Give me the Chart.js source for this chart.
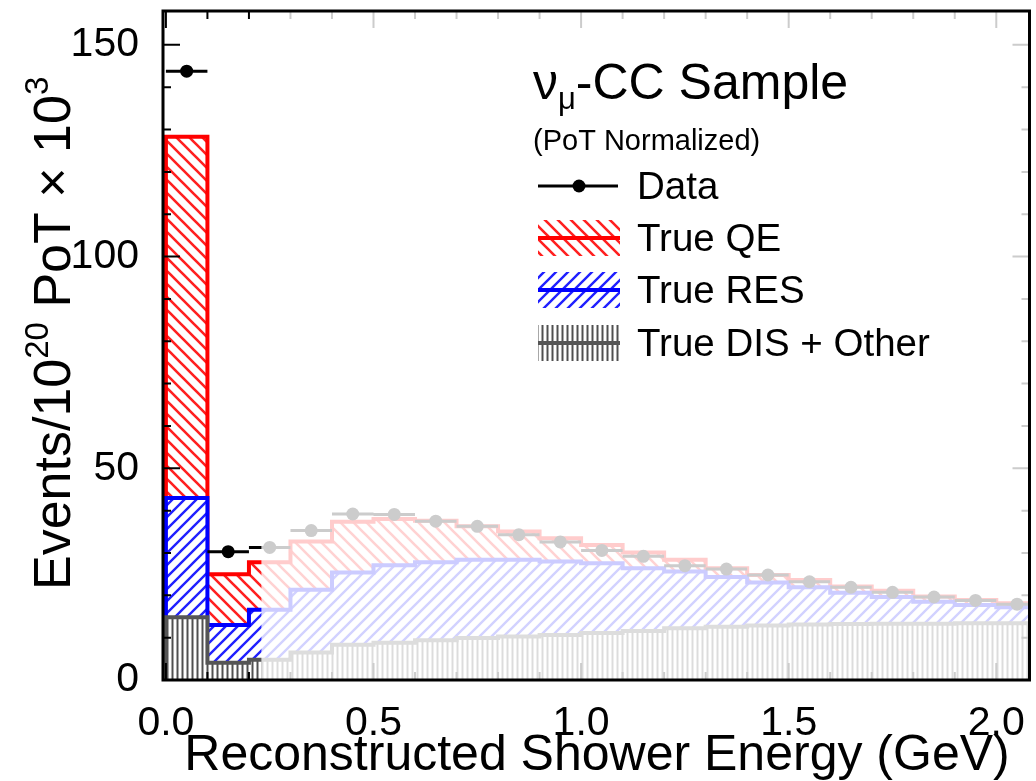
<!DOCTYPE html>
<html lang="en">
<head>
<meta charset="UTF-8">
<title>Reconstructed Shower Energy</title>
<script src="https://cdn.jsdelivr.net/npm/chart.js"></script>
<style>
  html, body { margin: 0; padding: 0; background: #fff; }
  #wrap { width: 1036px; height: 781px; position: relative; }
</style>
</head>
<body>
<div id="wrap"><canvas id="showerChart"></canvas></div>
<script>
// 0.1 GeV bins, edges
const binEdges = [0.0, 0.1, 0.2, 0.3, 0.4, 0.5, 0.6, 0.7, 0.8, 0.9, 1.0,
                  1.1, 1.2, 1.3, 1.4, 1.5, 1.6, 1.7, 1.8, 1.9, 2.0, 2.1];

// events / 1e20 PoT x 1e3, per bin
const dataEvents = [143.8, 30.3, 31.3, 35.3, 39.2, 39.1, 37.5, 36.3, 34.3, 32.6, 30.6,
                    29.2, 27.0, 26.2, 24.8, 23.2, 21.9, 20.7, 19.6, 18.8, 17.9];
const trueQE     = [85.3, 12.0, 11.2, 11.4, 12.0, 10.9, 9.8, 7.9, 6.7, 5.5, 4.3,
                    3.7, 2.8, 2.1, 1.8, 1.7, 1.5, 1.5, 1.2, 1.2, 0.9];
const trueRES    = [28.2, 8.9, 11.8, 14.8, 17.1, 18.3, 18.4, 18.5, 18.1, 17.4, 16.5,
                    14.8, 13.4, 11.7, 10.1, 8.8, 7.4, 6.3, 5.2, 4.3, 3.8];
const trueDIS    = [14.8, 4.1, 4.8, 6.5, 8.3, 8.8, 9.4, 9.9, 10.3, 10.6, 11.1,
                    11.6, 12.2, 12.6, 12.9, 13.1, 13.2, 13.3, 13.3, 13.4, 13.4];

const xTicks = [0.0, 0.5, 1.0, 1.5, 2.0];
const yTicks = [0, 50, 100, 150];

const FONT = '"Liberation Sans", Arial, Helvetica, sans-serif';
const FADE_FROM = 0.23;   // everything right of this energy is washed out

// stacked tops: DIS, DIS+RES, DIS+RES+QE
const topDIS = trueDIS.slice();
const topRES = trueRES.map((v, i) => v + topDIS[i]);
const topQE = trueQE.map((v, i) => v + topRES[i]);

function stepPoints(vals) {
  const pts = [{ x: binEdges[0], y: 0 }];
  vals.forEach((v, i) => pts.push({ x: binEdges[i], y: v }));
  pts.push({ x: binEdges[vals.length], y: vals[vals.length - 1] });
  return pts;
}

function barPoints(vals) {
  const pts = [];
  vals.forEach((v, i) => {
    pts.push({ x: binEdges[i], y: v }, { x: binEdges[i + 1], y: v }, { x: binEdges[i + 1], y: null });
  });
  return pts;
}

const markerPoints = dataEvents.map((v, i) => ({ x: (binEdges[i] + binEdges[i + 1]) / 2, y: v }));

const canvas = document.getElementById('showerChart');
const ctx = canvas.getContext('2d');

function hatch(color, dir, size, lw) {
  const c = document.createElement('canvas');
  c.width = c.height = size;
  const g = c.getContext('2d');
  g.fillStyle = '#fff';
  g.fillRect(0, 0, size, size);
  g.strokeStyle = color;
  g.lineWidth = lw;
  g.beginPath();
  if (dir === '\\') {
    g.moveTo(-size, -size); g.lineTo(2 * size, 2 * size);
    g.moveTo(0, -size); g.lineTo(2 * size, size);
    g.moveTo(-size, 0); g.lineTo(size, 2 * size);
  } else if (dir === '/') {
    g.moveTo(-size, 2 * size); g.lineTo(2 * size, -size);
    g.moveTo(-size, size); g.lineTo(size, -size);
    g.moveTo(0, 2 * size); g.lineTo(2 * size, 0);
  } else {
    g.moveTo(size / 2, 0); g.lineTo(size / 2, size);
  }
  g.stroke();
  return ctx.createPattern(c, 'repeat');
}

const qeFill = hatch('#ff2020', '\\', 13, 2.6);
const resFill = hatch('#2020ff', '/', 12, 2.4);
const disFill = hatch('#505050', '|', 5, 2);

// 'before': horizontal run at the previous value, then the vertical edge
const histStyle = { pointRadius: 0, borderWidth: 4, stepped: 'before', fill: 'origin', tension: 0 };

function drawTicks(c, area, xs, ys) {
  c.save();
  c.strokeStyle = '#000';
  c.lineWidth = 2;
  c.beginPath();
  const yMinor = [];
  for (let i = 0; i < yTicks.length; i++) {
    for (let k = 1; k < 5; k++) yMinor.push(yTicks[i] + k * 10);
  }
  const xMinor = [];
  for (let i = 0; i < xTicks.length; i++) {
    for (let k = 1; k < 5; k++) xMinor.push(xTicks[i] + k * 0.1);
  }
  const yMarks = yTicks.map(v => [v, 17]).concat(yMinor.filter(v => v < ys.max).map(v => [v, 8]));
  const xMarks = xTicks.map(v => [v, 17]).concat(xMinor.filter(v => v < xs.max).map(v => [v, 8]));
  yMarks.forEach(([v, len]) => {
    const y = ys.getPixelForValue(v);
    c.moveTo(area.left, y); c.lineTo(area.left + len, y);
    c.moveTo(area.right, y); c.lineTo(area.right - len, y);
  });
  xMarks.forEach(([v, len]) => {
    const x = xs.getPixelForValue(v);
    c.moveTo(x, area.bottom); c.lineTo(x, area.bottom - len);
    c.moveTo(x, area.top); c.lineTo(x, area.top + len);
  });
  c.stroke();
  c.restore();
}

function drawRich(c, parts, x, y, size) {
  // parts: [text, scale, rise]
  let cx = x;
  parts.forEach(([t, s, rise]) => {
    c.font = `${Math.round(size * s)}px ${FONT}`;
    c.fillText(t, cx, y - rise * size);
    cx += c.measureText(t).width;
  });
}

const decorations = {
  id: 'decorations',
  afterDatasetsDraw(chart) {
    const c = chart.ctx;
    const area = chart.chartArea;
    const xs = chart.scales.x, ys = chart.scales.y;
    drawTicks(c, area, xs, ys);

    // wash out the upper energy range
    const xf = xs.getPixelForValue(FADE_FROM);
    c.save();
    c.fillStyle = 'rgba(255,255,255,0.8)';
    c.fillRect(xf, area.top, area.right - xf, area.bottom - area.top);
    c.restore();

    // frame
    c.save();
    c.strokeStyle = '#000';
    c.lineWidth = 3;
    c.strokeRect(area.left, area.top, area.right - area.left, area.bottom - area.top);
    c.restore();
  },
  afterDraw(chart) {
    const c = chart.ctx;
    c.save();
    c.fillStyle = '#000';
    c.textBaseline = 'alphabetic';

    // axis titles
    c.font = `50px ${FONT}`;
    c.textAlign = 'center';
    c.fillText('Reconstructed Shower Energy (GeV)', 597, 770);

    c.textAlign = 'left';
    c.save();
    c.translate(70, 590);
    c.rotate(-Math.PI / 2);
    drawRich(c, [['Events/10', 1, 0], ['20', 0.64, 0.42], [' PoT \u00d7 10', 1, 0], ['3', 0.64, 0.42]], 0, 0, 52);
    c.restore();

    // legend header
    drawRich(c, [['\u03bd', 1, 0], ['\u03bc', 0.62, -0.2], ['-CC Sample', 1, 0]], 533, 99, 50);
    c.font = `29px ${FONT}`;
    c.fillText('(PoT Normalized)', 533, 150);

    const sx0 = 538, sx1 = 620, tx = 637;
    const rows = [186, 238, 290, 343];

    // Data
    c.strokeStyle = '#000';
    c.lineWidth = 3;
    c.beginPath(); c.moveTo(sx0, rows[0]); c.lineTo(sx1 - 2, rows[0]); c.stroke();
    c.beginPath(); c.arc((sx0 + sx1) / 2, rows[0], 6.5, 0, Math.PI * 2); c.fill();

    const boxes = [[qeFill, '#ff0000'], [resFill, '#0000ff'], [disFill, '#555555']];
    boxes.forEach(([pat, col], i) => {
      const cy = rows[i + 1];
      c.fillStyle = pat;
      c.fillRect(sx0, cy - 18, sx1 - sx0, 36);
      c.strokeStyle = col;
      c.lineWidth = 4;
      c.beginPath(); c.moveTo(sx0, cy); c.lineTo(sx1, cy); c.stroke();
    });

    c.fillStyle = '#000';
    c.font = `38.5px ${FONT}`;
    ['Data', 'True QE', 'True RES', 'True DIS + Other'].forEach((t, i) => {
      c.fillText(t, tx, rows[i] + 13);
    });
    c.restore();
  }
};

new Chart(ctx, {
  type: 'scatter',
  data: {
    datasets: [
      {
        label: 'Data',
        data: markerPoints,
        showLine: false,
        pointRadius: 6.5,
        pointBackgroundColor: '#000',
        pointBorderWidth: 0,
        order: 0
      },
      {
        label: 'Data bin width',
        type: 'line',
        data: barPoints(dataEvents),
        borderColor: '#000',
        borderWidth: 3,
        pointRadius: 0,
        spanGaps: false,
        fill: false,
        order: 1
      },
      Object.assign({
        label: 'True DIS + Other',
        type: 'line',
        data: stepPoints(topDIS),
        borderColor: '#555555',
        backgroundColor: disFill,
        order: 2
      }, histStyle),
      Object.assign({
        label: 'True RES',
        type: 'line',
        data: stepPoints(topRES),
        borderColor: '#0000ff',
        backgroundColor: resFill,
        order: 3
      }, histStyle),
      Object.assign({
        label: 'True QE',
        type: 'line',
        data: stepPoints(topQE),
        borderColor: '#ff0000',
        backgroundColor: qeFill,
        order: 4
      }, histStyle)
    ]
  },
  options: {
    responsive: true,
    maintainAspectRatio: false,
    animation: false,
    events: [],
    layout: { padding: { top: 11, right: 6, left: 0, bottom: 0 } },
    plugins: { legend: { display: false }, tooltip: { enabled: false } },
    scales: {
      x: {
        type: 'linear',
        min: -0.007,
        max: 2.08,
        grid: { display: false },
        border: { display: false },
        afterBuildTicks: s => { s.ticks = xTicks.map(v => ({ value: v })); },
        ticks: {
          color: '#000',
          font: { family: FONT, size: 41 },
          padding: 11,
          maxRotation: 0,
          autoSkip: false,
          callback: v => Number(v).toFixed(1)
        },
        afterFit: s => { s.height = 101; s.paddingLeft = 0; s.paddingRight = 0; }
      },
      y: {
        type: 'linear',
        min: 0,
        max: 158,
        grid: { display: false },
        border: { display: false },
        afterBuildTicks: s => { s.ticks = yTicks.map(v => ({ value: v })); },
        ticks: {
          color: '#000',
          font: { family: FONT, size: 41 },
          padding: 16,
          autoSkip: false,
          callback: v => String(v)
        },
        afterFit: s => { s.width = 163; s.paddingTop = 0; s.paddingBottom = 0; }
      }
    }
  },
  plugins: [decorations]
});
</script>
</body>
</html>
